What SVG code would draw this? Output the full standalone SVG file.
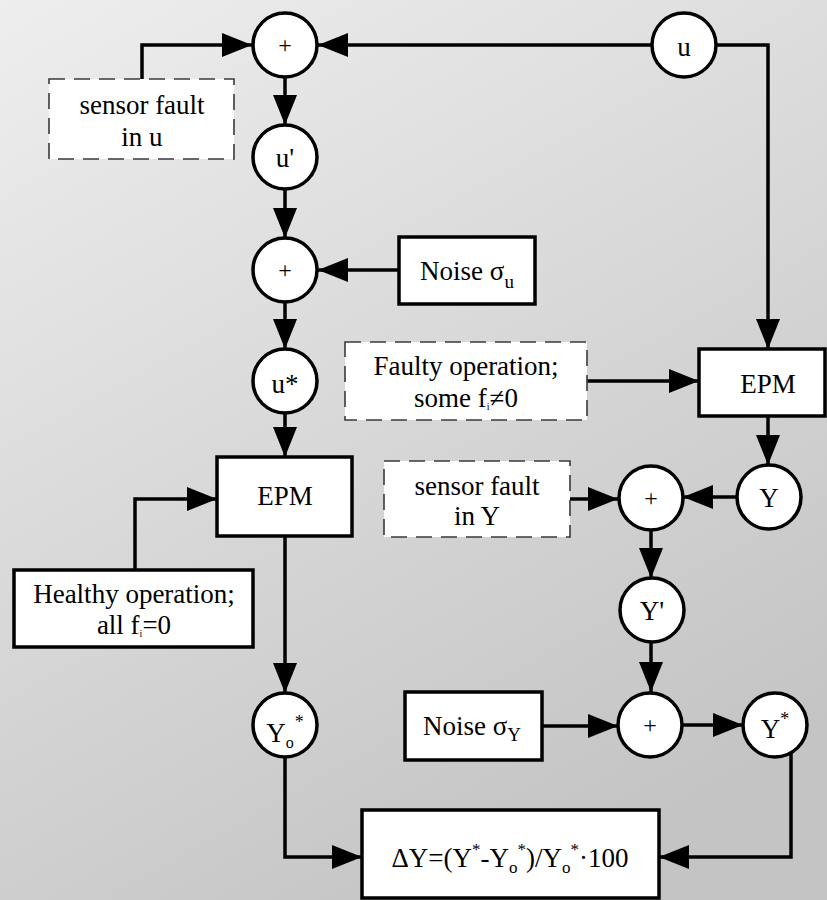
<svg xmlns="http://www.w3.org/2000/svg" width="827" height="900" viewBox="0 0 827 900">
  <defs>
    <linearGradient id="bg" gradientUnits="userSpaceOnUse" x1="0" y1="0" x2="500" y2="900">
      <stop offset="0" stop-color="#eeeeee"/>
      <stop offset="1" stop-color="#c4c4c4"/>
    </linearGradient>
    <marker id="arrow" viewBox="0 0 30 24" refX="30" refY="12" markerWidth="30" markerHeight="24" markerUnits="userSpaceOnUse" orient="auto">
      <path d="M0,0 L30,12 L0,24 Z" fill="#000"/>
    </marker>
    <style>
      .node { fill: #fff; stroke: #000; stroke-width: 3.5; }
      .dash { fill: #fff; stroke: #3a3a3a; stroke-width: 1.6; stroke-dasharray: 16 9; }
      .lbl { font-family: "Liberation Serif", "Times New Roman", serif; font-size: 27px; fill: #000; text-anchor: middle; }
      .plus { font-family: "Liberation Serif", "Times New Roman", serif; font-size: 24px; fill: #000; text-anchor: middle; }
      .wire { fill: none; stroke: #000; stroke-width: 3.5; }
      .arr { marker-end: url(#arrow); }
    </style>
  </defs>

  <rect x="0" y="0" width="827" height="900" fill="url(#bg)"/>

  <!-- connectors -->
  <g id="connectors">
    <path class="wire arr" d="M142,79 V45 H252"/>
    <path class="wire arr" d="M651,45 H318"/>
    <path class="wire arr" d="M717,45 H768 V349"/>
    <path class="wire arr" d="M285,77 V125"/>
    <path class="wire arr" d="M285,190 V238"/>
    <path class="wire arr" d="M399,270 H318"/>
    <path class="wire arr" d="M285,302 V349"/>
    <path class="wire arr" d="M285,413 V457"/>
    <path class="wire arr" d="M135,570 V499 H217"/>
    <path class="wire arr" d="M285,536 V693"/>
    <path class="wire arr" d="M587,381 H699"/>
    <path class="wire arr" d="M768,416 V465"/>
    <path class="wire arr" d="M737,497 H683"/>
    <path class="wire arr" d="M570,499 H618"/>
    <path class="wire arr" d="M651,530 V578"/>
    <path class="wire arr" d="M651,643 V692"/>
    <path class="wire arr" d="M542,726 H618"/>
    <path class="wire arr" d="M683,725 H743"/>
    <path class="wire arr" d="M285,757 V857 H362"/>
    <path class="wire arr" d="M791,752 V857 H659"/>
  </g>

  <!-- summing junction for sensor fault on u -->
  <g id="sum-u-fault">
    <circle class="node" cx="285" cy="45" r="32"/>
    <text class="plus" x="285" y="53">+</text>
  </g>

  <g id="input-u">
    <circle class="node" cx="684" cy="45" r="32"/>
    <text class="lbl" x="684" y="56">u</text>
  </g>

  <g id="fault-u">
    <rect class="dash" x="49" y="79" width="185" height="80"/>
    <text class="lbl" x="142" y="114">sensor fault</text>
    <text class="lbl" x="142" y="146">in u</text>
  </g>

  <g id="u-prime">
    <circle class="node" cx="285" cy="157" r="32"/>
    <text class="lbl" x="285" y="167">u'</text>
  </g>

  <g id="sum-u-noise">
    <circle class="node" cx="285" cy="270" r="32"/>
    <text class="plus" x="285" y="278">+</text>
  </g>

  <g id="noise-u">
    <rect class="node" x="399" y="237" width="136" height="67"/>
    <text class="lbl" x="467" y="280">Noise σ<tspan font-size="19" dy="8">u</tspan></text>
  </g>

  <g id="u-star">
    <circle class="node" cx="285" cy="381" r="32"/>
    <text class="lbl" x="285" y="393">u*</text>
  </g>

  <g id="epm-healthy">
    <rect class="node" x="217" y="457" width="135" height="79"/>
    <text class="lbl" x="285" y="505">EPM</text>
  </g>

  <g id="healthy">
    <rect class="node" x="14" y="570" width="239" height="77"/>
    <text class="lbl" x="134" y="603">Healthy operation;</text>
    <text class="lbl" x="134" y="634">all f<tspan font-size="10" dy="3">i</tspan><tspan dy="-3">=0</tspan></text>
  </g>

  <g id="y0-star">
    <circle class="node" cx="285" cy="725" r="32"/>
    <text class="lbl" x="285" y="742">Y<tspan font-size="16" dy="6">o</tspan><tspan font-size="18" dy="-20" dx="1">*</tspan></text>
  </g>

  <g id="faulty">
    <rect class="dash" x="345" y="342" width="242" height="78"/>
    <text class="lbl" x="466" y="375">Faulty operation;</text>
    <text class="lbl" x="466" y="407">some f<tspan font-size="10" dy="3">i</tspan><tspan dy="-3">≠0</tspan></text>
  </g>

  <g id="epm-faulty">
    <rect class="node" x="699" y="349" width="126" height="67"/>
    <text class="lbl" x="768" y="393">EPM</text>
  </g>

  <g id="output-y">
    <circle class="node" cx="769" cy="497" r="32"/>
    <text class="lbl" x="769" y="507">Y</text>
  </g>

  <g id="fault-y">
    <rect class="dash" x="384" y="461" width="186" height="76"/>
    <text class="lbl" x="477" y="495">sensor fault</text>
    <text class="lbl" x="477" y="525">in Y</text>
  </g>

  <g id="sum-y-fault">
    <circle class="node" cx="651" cy="498" r="32"/>
    <text class="plus" x="651" y="506">+</text>
  </g>

  <g id="y-prime">
    <circle class="node" cx="652" cy="610" r="32"/>
    <text class="lbl" x="652" y="620">Y'</text>
  </g>

  <g id="noise-y">
    <rect class="node" x="405" y="692" width="137" height="68"/>
    <text class="lbl" x="472" y="735">Noise σ<tspan font-size="19" dy="6">Y</tspan></text>
  </g>

  <g id="sum-y-noise">
    <circle class="node" cx="650" cy="725" r="32"/>
    <text class="plus" x="650" y="733">+</text>
  </g>

  <g id="y-star">
    <circle class="node" cx="775" cy="725" r="32"/>
    <text class="lbl" x="775" y="738">Y<tspan font-size="18" dy="-13">*</tspan></text>
  </g>

  <g id="deviation">
    <rect class="node" x="362" y="810" width="297" height="88"/>
    <text class="lbl" x="510" y="867">ΔY=(Y<tspan font-size="17" dy="-12">*</tspan><tspan dy="12">-Y</tspan><tspan font-size="17" dy="6">o</tspan><tspan font-size="17" dy="-18">*</tspan><tspan dy="12">)/Y</tspan><tspan font-size="17" dy="6">o</tspan><tspan font-size="17" dy="-18">*</tspan><tspan dy="12">·100</tspan></text>
  </g>
</svg>
